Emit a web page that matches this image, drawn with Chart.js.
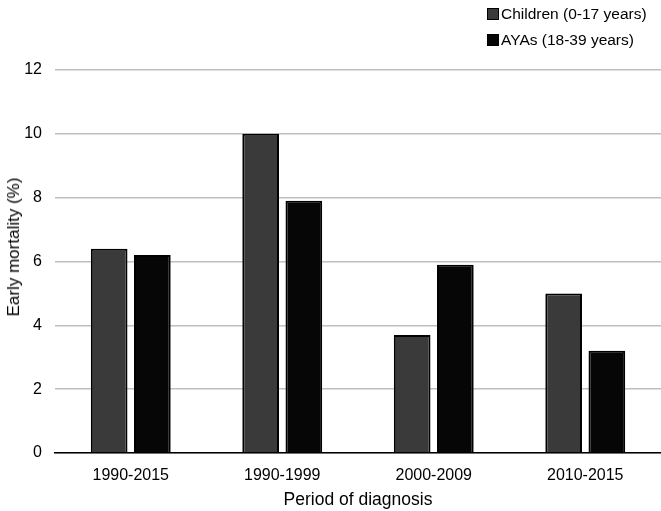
<!DOCTYPE html>
<html>
<head>
<meta charset="utf-8">
<script src="https://cdn.jsdelivr.net/npm/chart.js@4"></script>
<style>
  html, body { margin: 0; padding: 0; background: #fff; }
  #wrap { position: relative; width: 661px; height: 511px; }
  #legend { position: absolute; left: 487px; top: 1px; font-family: "Liberation Sans", Arial, sans-serif; font-size: 15.5px; color: #000; }
  .li { display: flex; align-items: center; height: 26px; }
  .sw { width: 12px; height: 12px; border: 1px solid #000; margin-right: 2px; box-sizing: border-box; }
  #ytitle { position: absolute; left: 14px; top: 247px; transform: translate(-50%, -50%) rotate(-90deg); white-space: nowrap; font-family: "Liberation Sans", Arial, sans-serif; font-size: 17px; color: #000; }
</style>
</head>
<body>
<div id="wrap">
  <canvas id="c" width="661" height="511"></canvas>
  <div id="legend"></div>
  <div id="ytitle"></div>
</div>
<script>
const categories = ["1990-2015", "1990-1999", "2000-2009", "2010-2015"];
const seriesNames = ["Children (0-17 years)", "AYAs (18-39 years)"];
const children = [6.4, 10.0, 3.7, 5.0];
const ayas = [6.2, 7.9, 5.9, 3.2];
const yTicks = [0, 2, 4, 6, 8, 10, 12];
const yTitle = "Early mortality (%)";
const xTitle = "Period of diagnosis";
const colors = ["#3a3a3a", "#060606"];

const FONT = "'Liberation Sans', Arial, sans-serif";

const leg = document.getElementById('legend');
seriesNames.forEach((n, i) => {
  const d = document.createElement('div'); d.className = 'li';
  const s = document.createElement('span'); s.className = 'sw'; s.style.background = colors[i];
  const t = document.createElement('span'); t.textContent = n;
  d.appendChild(s); d.appendChild(t); leg.appendChild(d);
});
document.getElementById('ytitle').textContent = yTitle;

new Chart(document.getElementById('c'), {
  type: 'bar',
  data: {
    labels: categories,
    datasets: [
      { label: seriesNames[0], data: children, backgroundColor: colors[0], borderColor: '#000', borderWidth: 2, categoryPercentage: 0.57, barPercentage: 0.85 },
      { label: seriesNames[1], data: ayas, backgroundColor: colors[1], borderColor: '#000', borderWidth: 2, categoryPercentage: 0.57, barPercentage: 0.85 }
    ]
  },
  options: {
    responsive: false,
    animation: false,
    layout: { padding: { top: 70, right: 0, left: 0, bottom: 0 } },
    plugins: { legend: { display: false }, tooltip: { enabled: false } },
    scales: {
      x: {
        grid: { display: false },
        border: { display: true, color: '#000', width: 1.5 },
        ticks: { color: '#000', font: { family: FONT, size: 16 }, padding: 5 },
        title: { display: true, text: xTitle, color: '#000', font: { family: FONT, size: 17.5 }, padding: { top: 5, bottom: 0 } },
        afterFit: (s) => { s.height = 58; }
      },
      y: {
        min: 0, max: 12,
        afterBuildTicks: (ax) => { ax.ticks = yTicks.map(v => ({ value: v })); },
        grid: { color: '#bfbfbf', lineWidth: 1.5, drawTicks: false },
        border: { display: false },
        ticks: { color: '#000', font: { family: FONT, size: 16 }, padding: 13 },
        title: { display: false },
        afterFit: (s) => { s.width = 55; }
      }
    }
  }
});
</script>
</body>
</html>
